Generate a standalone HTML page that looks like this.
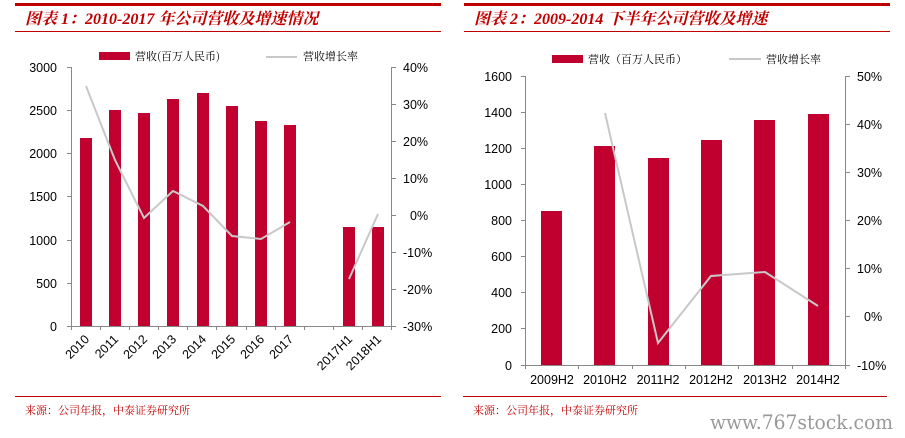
<!DOCTYPE html>
<html><head><meta charset="utf-8"><style>
body{margin:0;background:#fff;}
svg{display:block;font-family:"Liberation Sans","Noto Sans CJK SC",sans-serif;}
.t{font-family:"Liberation Serif","Noto Serif CJK SC",serif;font-weight:bold;font-style:italic;fill:#c00000;font-size:16px;}
.ax{font-size:12.5px;fill:#000;}
.lg{font-family:"Noto Serif CJK SC",serif;font-size:11px;fill:#000;}
.src{font-family:"Noto Serif CJK SC",serif;font-size:11px;fill:#c00000;}
</style></head><body>
<svg width="905" height="438" viewBox="0 0 905 438">
<rect x="15" y="3" width="426" height="3" fill="#c00000"/>
<text x="25" y="24" class="t">图表 1：2010-2017 年公司营收及增速情况</text>
<rect x="15" y="31" width="426" height="1" fill="#c00000"/>
<rect x="99" y="52" width="31" height="8" fill="#c0002f"/>
<text x="135" y="60" class="lg">营收(百万人民币)</text>
<line x1="266" y1="57" x2="297" y2="57" stroke="#c8c8c8" stroke-width="2"/>
<text x="303" y="60" class="lg">营收增长率</text>
<g stroke="#888" stroke-width="1" fill="none">
<line x1="71.5" y1="67" x2="71.5" y2="326"/>
<line x1="391.5" y1="67" x2="391.5" y2="326"/>
<line x1="71" y1="326.5" x2="392" y2="326.5"/>
<path d="M67 67.5h4M67 110.5h4M67 153.5h4M67 196.5h4M67 240.5h4M67 283.5h4M67 326.5h4"/>
<path d="M392 67.5h4M392 104.5h4M392 141.5h4M392 178.5h4M392 215.5h4M392 252.5h4M392 289.5h4M392 326.5h4"/>
<path d="M100.5 326v4M129.5 326v4M158.5 326v4M187.5 326v4M216.5 326v4M246.5 326v4M275.5 326v4M304.5 326v4M333.5 326v4M362.5 326v4M71.5 326v4M391.5 326v4"/>
</g>
<g class="ax" text-anchor="end">
<text x="57" y="72">3000</text><text x="57" y="115">2500</text><text x="57" y="158">2000</text><text x="57" y="201">1500</text><text x="57" y="245">1000</text><text x="57" y="288">500</text><text x="57" y="331">0</text>
</g>
<g class="ax">
<text x="403" y="72">40%</text><text x="403" y="109">30%</text><text x="403" y="146">20%</text><text x="403" y="183">10%</text><text x="410" y="220">0%</text><text x="403" y="257">-10%</text><text x="403" y="294">-20%</text><text x="403" y="331">-30%</text>
</g>
<g fill="#c0002f">
<rect x="80" y="138" width="12" height="188"/>
<rect x="109" y="110" width="12" height="216"/>
<rect x="138" y="113" width="12" height="213"/>
<rect x="167" y="99" width="12" height="227"/>
<rect x="197" y="93" width="12" height="233"/>
<rect x="226" y="106" width="12" height="220"/>
<rect x="255" y="121" width="12" height="205"/>
<rect x="284" y="125" width="12" height="201"/>
<rect x="343" y="227" width="12" height="99"/>
<rect x="372" y="227" width="12" height="99"/>
</g>
<polyline points="86,86 115,160 144,218 173,191 203,206 232,236 261,239 290,222" fill="none" stroke="#c8c8c8" stroke-width="2"/>
<polyline points="349,279 378,214" fill="none" stroke="#c8c8c8" stroke-width="2"/>
<g class="ax" text-anchor="end">
<text transform="translate(90,340) rotate(-45)">2010</text>
<text transform="translate(119,340) rotate(-45)">2011</text>
<text transform="translate(148,340) rotate(-45)">2012</text>
<text transform="translate(177,340) rotate(-45)">2013</text>
<text transform="translate(207,340) rotate(-45)">2014</text>
<text transform="translate(236,340) rotate(-45)">2015</text>
<text transform="translate(265,340) rotate(-45)">2016</text>
<text transform="translate(294,340) rotate(-45)">2017</text>
<text transform="translate(353,340) rotate(-45)">2017H1</text>
<text transform="translate(382,340) rotate(-45)">2018H1</text>
</g>
<rect x="15" y="396" width="426" height="1" fill="#c00000"/>
<text x="25" y="414" class="src">来源：公司年报，中泰证券研究所</text>

<rect x="464" y="3" width="426" height="3" fill="#c00000"/>
<text x="474" y="24" class="t">图表 2：2009-2014 下半年公司营收及增速</text>
<rect x="464" y="31" width="426" height="1" fill="#c00000"/>
<rect x="552" y="55" width="31" height="8" fill="#c0002f"/>
<text x="588" y="63" class="lg">营收（百万人民币）</text>
<line x1="729" y1="59" x2="761" y2="59" stroke="#c8c8c8" stroke-width="2"/>
<text x="766" y="63" class="lg">营收增长率</text>
<g stroke="#888" stroke-width="1" fill="none">
<line x1="525.5" y1="76" x2="525.5" y2="365"/>
<line x1="845.5" y1="76" x2="845.5" y2="365"/>
<line x1="525" y1="365.5" x2="846" y2="365.5"/>
<path d="M521 76.5h4M521 112.5h4M521 148.5h4M521 184.5h4M521 220.5h4M521 256.5h4M521 292.5h4M521 328.5h4M521 365.5h4"/>
<path d="M846 76.5h4M846 124.5h4M846 172.5h4M846 220.5h4M846 268.5h4M846 316.5h4M846 365.5h4"/>
<path d="M525.5 365v4M578.5 365v4M632.5 365v4M685.5 365v4M738.5 365v4M792.5 365v4M845.5 365v4"/>
</g>
<g class="ax" text-anchor="end">
<text x="512" y="81">1600</text><text x="512" y="117">1400</text><text x="512" y="153">1200</text><text x="512" y="189">1000</text><text x="512" y="225">800</text><text x="512" y="261">600</text><text x="512" y="297">400</text><text x="512" y="333">200</text><text x="512" y="370">0</text>
</g>
<g class="ax">
<text x="857" y="81">50%</text><text x="857" y="129">40%</text><text x="857" y="177">30%</text><text x="857" y="225">20%</text><text x="857" y="273">10%</text><text x="864" y="321">0%</text><text x="857" y="370">-10%</text>
</g>
<g fill="#c0002f">
<rect x="541" y="211" width="21" height="154"/>
<rect x="594" y="146" width="21" height="219"/>
<rect x="648" y="158" width="21" height="207"/>
<rect x="701" y="140" width="21" height="225"/>
<rect x="754" y="120" width="21" height="245"/>
<rect x="808" y="114" width="21" height="251"/>
</g>
<polyline points="605,113 658,343 711,276 765,272 818,306" fill="none" stroke="#c8c8c8" stroke-width="2"/>
<g class="ax" text-anchor="middle">
<text x="552" y="384">2009H2</text><text x="605" y="384">2010H2</text><text x="658" y="384">2011H2</text><text x="711" y="384">2012H2</text><text x="765" y="384">2013H2</text><text x="818" y="384">2014H2</text>
</g>
<rect x="463" y="396" width="424" height="1" fill="#c00000"/>
<text x="473" y="414" class="src">来源：公司年报，中泰证券研究所</text>
<text x="710" y="429" textLength="183" lengthAdjust="spacingAndGlyphs" style="font-family:'DejaVu Serif',serif;font-size:20px;fill:#999;">www.767stock.com</text>
</svg>
</body></html>
